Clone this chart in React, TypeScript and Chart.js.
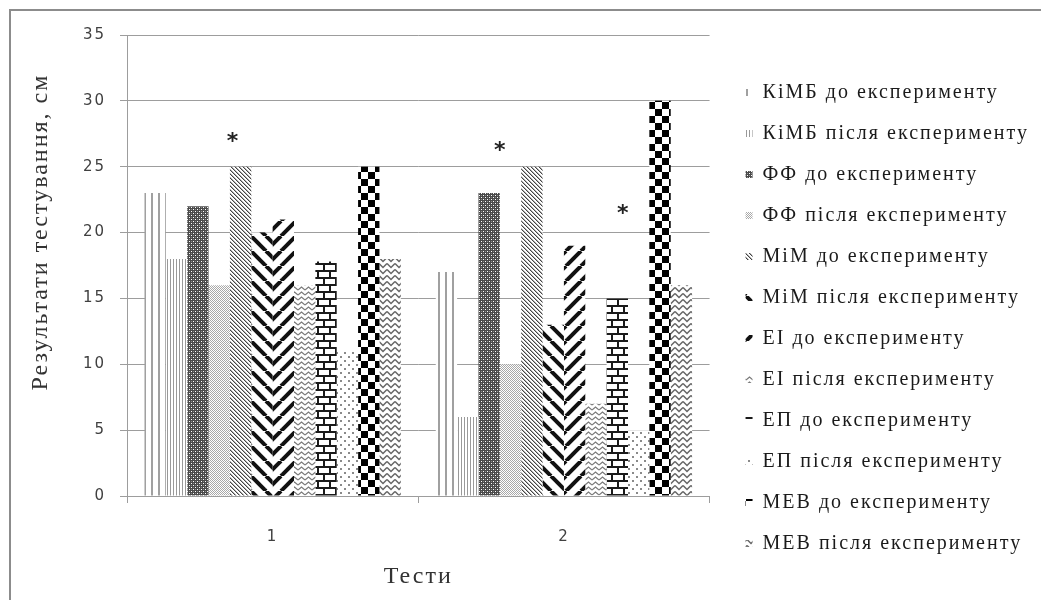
import { useEffect, useRef } from 'react';
import { Chart, registerables } from 'chart.js';

Chart.register(...registerables);

// ---- data ----
const categories = ['1', '2'];
const seriesNames = [
  'КіМБ до експерименту',
  'КіМБ після експерименту',
  'ФФ до експерименту',
  'ФФ після експерименту',
  'МіМ до експерименту',
  'МіМ після експерименту',
  'ЕІ до експерименту',
  'ЕІ після експерименту',
  'ЕП до експерименту',
  'ЕП після експерименту',
  'МЕВ до експерименту',
  'МЕВ після експерименту',
];
const test1Values = [23, 18, 22, 16, 25, 20, 21, 16, 17.8, 11, 25, 18];
const test2Values = [17, 6, 23, 10, 25, 13, 19, 7, 15, 5, 30, 16];
const yMin = 0;
const yMax = 35;
const yStep = 5;
const yTitle = 'Результати тестування, см';
const xTitle = 'Тести';
// significance marks (*): series index, category index, value level
const starSeries = [4, 2, 8];
const starCategories = [0, 1, 1];
const starValues = [27.3, 26.65, 21.9];

// ---- styles ----
const starShift = [-0.38, 0.5, 0.25];
const gridColor = '#9d9d9d';
const serif = '"Liberation Serif", "Times New Roman", serif';
const sans = '"DejaVu Sans", Verdana, sans-serif';

function makePattern(w: number, h: number, draw: (c: CanvasRenderingContext2D) => void): CanvasPattern {
  const cv = document.createElement('canvas');
  cv.width = w;
  cv.height = h;
  const c = cv.getContext('2d')!;
  c.fillStyle = '#ffffff';
  c.fillRect(0, 0, w, h);
  draw(c);
  return c.createPattern(cv, 'repeat')!;
}

function buildPatterns(): CanvasPattern[] {
  return [
    // KiMB before: wide vertical light lines
    makePattern(7, 7, (c) => {
      c.fillStyle = '#a0a0a0';
      c.fillRect(0, 0, 2, 7);
    }),
    // KiMB after: dense vertical lines
    makePattern(3, 3, (c) => {
      c.fillStyle = '#999999';
      c.fillRect(0, 0, 1, 3);
    }),
    // FF before: dark diamond lattice
    makePattern(4, 4, (c) => {
      c.fillStyle = '#4a4a4a';
      c.fillRect(0, 0, 4, 4);
      c.fillStyle = '#ffffff';
      c.fillRect(0, 0, 1, 1);
      c.fillRect(2, 2, 1, 1);
      c.fillStyle = '#8a8a8a';
      c.fillRect(2, 0, 1, 1);
      c.fillRect(0, 2, 1, 1);
    }),
    // FF after: fine light dots
    makePattern(2, 2, (c) => {
      c.fillStyle = '#a8a8a8';
      c.fillRect(0, 0, 1, 1);
      c.fillRect(1, 1, 1, 1);
    }),
    // MiM before: thin dense downward diagonal
    makePattern(4, 4, (c) => {
      for (let i = 0; i < 4; i++) {
        c.fillStyle = '#444444';
        c.fillRect(i, i, 1, 1);
        c.fillStyle = '#b0b0b0';
        c.fillRect((i + 1) % 4, i, 1, 1);
      }
    }),
    // MiM after: thick downward diagonal
    makePattern(15, 15, (c) => {
      c.strokeStyle = '#111111';
      c.lineWidth = 4;
      for (const off of [-15, 0, 15]) {
        c.beginPath();
        c.moveTo(off, 0);
        c.lineTo(off + 15, 15);
        c.stroke();
      }
    }),
    // EI before: thick upward diagonal
    makePattern(15, 15, (c) => {
      c.strokeStyle = '#111111';
      c.lineWidth = 4;
      for (const off of [-15, 0, 15]) {
        c.beginPath();
        c.moveTo(off, 15);
        c.lineTo(off + 15, 0);
        c.stroke();
      }
    }),
    // EI after: light zigzag
    makePattern(7, 5, (c) => {
      c.strokeStyle = '#7a7a7a';
      c.lineWidth = 1.2;
      c.beginPath();
      c.moveTo(0, 4);
      c.lineTo(3.5, 1);
      c.lineTo(7, 4);
      c.stroke();
    }),
    // EP before: horizontal brick
    makePattern(12, 14, (c) => {
      c.fillStyle = '#1a1a1a';
      c.fillRect(0, 0, 12, 2);
      c.fillRect(0, 7, 12, 2);
      c.fillRect(0, 0, 2, 7);
      c.fillRect(6, 7, 2, 7);
    }),
    // EP after: sparse dots
    makePattern(8, 8, (c) => {
      c.fillStyle = '#8a8a8a';
      c.fillRect(1, 1, 2, 2);
      c.fillRect(5, 5, 2, 2);
    }),
    // MEB before: large checker
    makePattern(14, 14, (c) => {
      c.fillStyle = '#000000';
      c.fillRect(0, 0, 7, 7);
      c.fillRect(7, 7, 7, 7);
    }),
    // MEB after: grey weave
    makePattern(8, 6, (c) => {
      c.strokeStyle = '#666666';
      c.lineWidth = 1.5;
      c.beginPath();
      c.moveTo(0, 0.5);
      c.lineTo(4, 4.5);
      c.lineTo(8, 0.5);
      c.stroke();
    }),
  ];
}

const spacingPlugin = {
  id: 'spacing',
  beforeUpdate(chart: any) {
    chart.ctx.letterSpacing = '2px';
  },
  beforeDraw(chart: any) {
    chart.ctx.letterSpacing = '2px';
  },
};

const yTitlePlugin = {
  id: 'yTitleCustom',
  afterDraw(chart: any) {
    const { ctx, chartArea } = chart;
    ctx.save();
    ctx.letterSpacing = '2px';
    ctx.font = `24px ${serif}`;
    ctx.fillStyle = '#333333';
    ctx.textAlign = 'center';
    ctx.textBaseline = 'middle';
    ctx.translate(chartArea.left - 86, chartArea.top + 197);
    ctx.rotate(-Math.PI / 2);
    ctx.fillText(yTitle, 0, 0);
    ctx.restore();
  },
};

const starPlugin = {
  id: 'stars',
  afterDatasetsDraw(chart: any) {
    const { ctx } = chart;
    const yScale = chart.scales.y;
    ctx.save();
    ctx.letterSpacing = '0px';
    ctx.font = `bold 22px ${sans}`;
    ctx.fillStyle = '#222222';
    ctx.textAlign = 'center';
    ctx.textBaseline = 'alphabetic';
    starSeries.forEach((ds, k) => {
      const bar = chart.getDatasetMeta(ds).data[starCategories[k]];
      if (!bar) return;
      const x = bar.x + starShift[k] * bar.width;
      const py = yScale.getPixelForValue(starValues[k]);
      ctx.fillText('*', x, py + 12);
    });
    ctx.restore();
  },
};

export default function App() {
  const ref = useRef<HTMLCanvasElement>(null);

  useEffect(() => {
    const canvas = ref.current;
    if (!canvas) return;
    const patterns = buildPatterns();
    const datasets = seriesNames.map((name, i) => ({
      label: name,
      data: [test1Values[i], test2Values[i]],
      backgroundColor: patterns[i],
      borderWidth: 0,
      categoryPercentage: 0.88,
      barPercentage: 1,
    }));

    const chart = new Chart(canvas, {
      type: 'bar',
      data: { labels: categories, datasets },
      plugins: [spacingPlugin, yTitlePlugin, starPlugin],
      options: {
        animation: false,
        responsive: true,
        maintainAspectRatio: false,
        devicePixelRatio: 1,
        layout: { padding: { top: 24, right: 2, bottom: 0, left: 0 } },
        plugins: {
          tooltip: { enabled: false },
          title: { display: false },
          legend: {
            display: true,
            position: 'right',
            align: 'center',
            maxWidth: 420,
            labels: {
              boxWidth: 7,
              boxHeight: 7,
              padding: 21,
              color: '#1a1a1a',
              font: { family: serif, size: 20 },
            },
          },
        },
        scales: {
          x: {
            type: 'category',
            offset: true,
            grid: {
              display: true,
              drawOnChartArea: false,
              drawTicks: true,
              tickLength: 7,
              offset: true,
              color: gridColor,
            },
            border: { display: true, color: gridColor, width: 1 },
            ticks: { color: '#404040', font: { family: sans, size: 15 }, padding: 25 },
            title: {
              display: true,
              text: xTitle,
              color: '#333333',
              font: { family: serif, size: 24 },
              padding: { top: 0, bottom: 10 },
            },
            afterFit: (s: any) => {
              s.height = 105;
            },
          },
          y: {
            type: 'linear',
            min: yMin,
            max: yMax,
            ticks: { stepSize: yStep, color: '#404040', font: { family: sans, size: 15 }, padding: 14 },
            grid: { display: true, drawTicks: true, tickLength: 7, color: gridColor, lineWidth: 1 },
            border: { display: true, color: gridColor, width: 1 },
            title: { display: false },
            afterFit: (s: any) => {
              s.width = 116;
            },
          },
          gap: {
            type: 'linear',
            position: 'right',
            display: true,
            grid: { display: false, drawTicks: false },
            border: { display: false },
            ticks: { display: false },
            afterFit: (s: any) => {
              s.width = 15;
            },
          },
        },
      } as any,
    });
    return () => chart.destroy();
  }, []);

  return (
    <div
      style={{
        position: 'relative',
        top: 1,
        left: 1,
        width: 1030,
        height: 590,
        borderTop: '2px solid #8c8c8c',
        borderLeft: '2px solid #8c8c8c',
      }}
    >
      <canvas ref={ref} />
    </div>
  );
}
